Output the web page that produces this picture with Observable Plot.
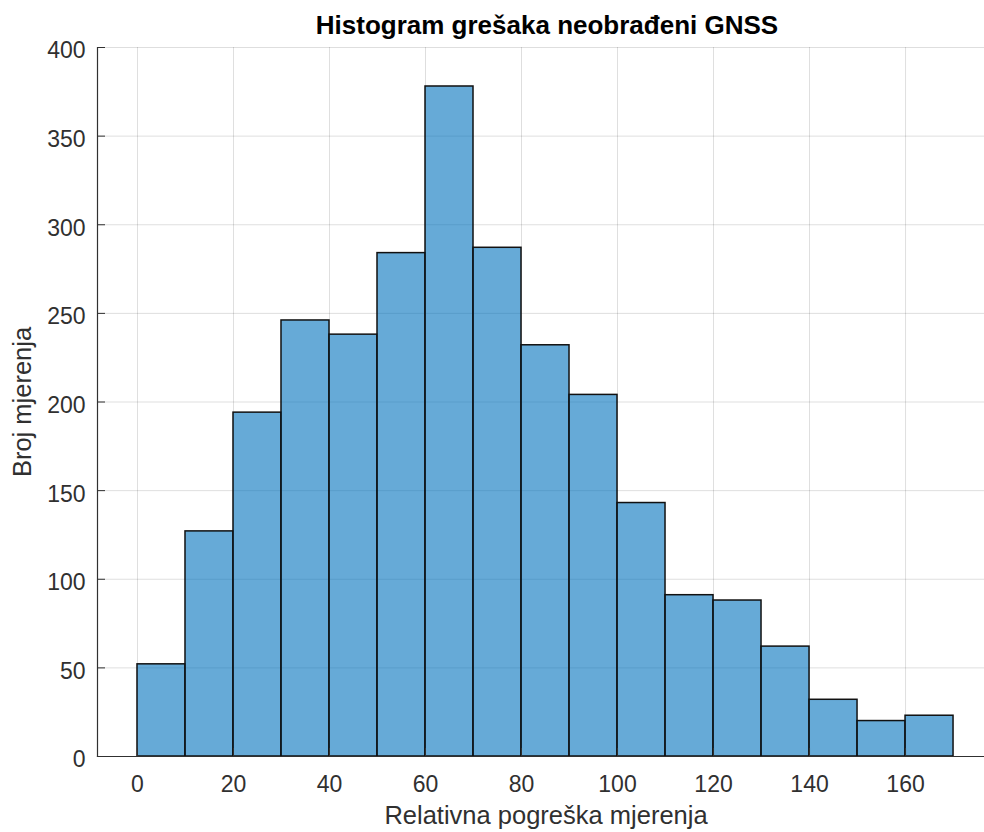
<!DOCTYPE html>
<html>
<head>
<meta charset="utf-8">
<script src="https://cdn.jsdelivr.net/npm/d3@7"></script>
<script src="https://cdn.jsdelivr.net/npm/@observablehq/plot@0.6"></script>
<style>
  html, body { margin: 0; padding: 0; background: #fff; }
  #chart svg { display: block; }
</style>
</head>
<body>
<div id="chart"></div>
<script>
const binEdges = [0, 10, 20, 30, 40, 50, 60, 70, 80, 90, 100, 110, 120, 130, 140, 150, 160, 170];
const counts = [52, 127, 194, 246, 238, 284, 378, 287, 232, 204, 143, 91, 88, 62, 32, 20, 23];
const xTicks = [0, 20, 40, 60, 80, 100, 120, 140, 160];
const yTicks = [0, 50, 100, 150, 200, 250, 300, 350, 400];
const title = "Histogram grešaka neobrađeni GNSS";
const xLabel = "Relativna pogreška mjerenja";
const yLabel = "Broj mjerenja";

const bins = counts.map((c, i) => ({x1: binEdges[i], x2: binEdges[i + 1], count: c}));

const W = 984, H = 832;
const mL = 97, mR = 0, mT = 47, mB = 76;
const innerW = W - mL - mR, innerH = H - mT - mB;
const ink = "#303030";
const font = "'Liberation Sans', Arial, Helvetica, sans-serif";

const chart = Plot.plot({
  width: W,
  height: H,
  marginLeft: mL,
  marginRight: mR,
  marginTop: mT,
  marginBottom: mB,
  style: {fontFamily: font, color: ink, background: "#fff"},
  x: {domain: [-8.33, 176.45]},
  y: {domain: [0, 400]},
  marks: [
    Plot.gridX(xTicks, {stroke: "#000", strokeOpacity: 0.13, strokeWidth: 1}),
    Plot.gridY(yTicks, {stroke: "#000", strokeOpacity: 0.13, strokeWidth: 1}),
    Plot.rectY(bins, {x1: "x1", x2: "x2", y: "count", fill: "#0072BD", fillOpacity: 0.6, stroke: "#111", strokeWidth: 1.5}),
    Plot.tickY(yTicks, {y: d => d, stroke: ink, insetRight: innerW - 8}),
    Plot.tickX(xTicks, {x: d => d, stroke: ink, insetTop: innerH - 8}),
    Plot.frame({anchor: "left", stroke: ink, strokeWidth: 1.2}),
    Plot.frame({anchor: "bottom", stroke: ink, strokeWidth: 1.2}),
    Plot.axisX(xTicks, {tickSize: 0, tickPadding: 19, fontSize: 23, fill: ink, label: null}),
    Plot.axisY(yTicks, {tickSize: 0, tickPadding: 12, fontSize: 23, fill: ink, dy: 3.5, label: null}),
    Plot.text([title], {frameAnchor: "top", lineAnchor: "bottom", dy: -14, dx: 6, fontSize: 26, fontWeight: "bold", fill: "#000"}),
    Plot.text([xLabel], {frameAnchor: "bottom", lineAnchor: "bottom", dy: 67, dx: 5, fontSize: 25.5, fill: ink}),
    Plot.text([yLabel], {frameAnchor: "left", textAnchor: "middle", rotate: -90, lineAnchor: "top", dx: -85, fontSize: 25.5, fill: ink})
  ]
});
document.getElementById("chart").appendChild(chart);
</script>
</body>
</html>
